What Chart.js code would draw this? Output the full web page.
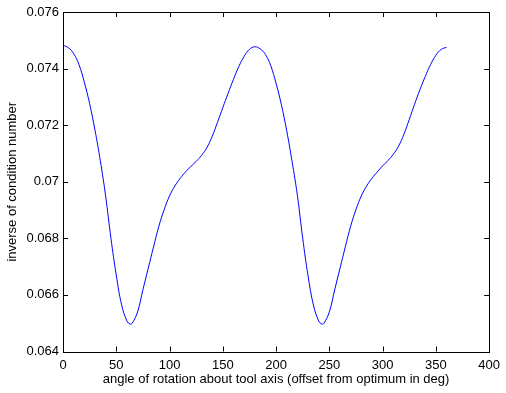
<!DOCTYPE html>
<html>
<head>
<meta charset="utf-8">
<script src="https://cdn.jsdelivr.net/npm/chart.js@4/dist/chart.umd.min.js"></script>
<style>
html,body{margin:0;padding:0;background:#fff;}
#wrap{width:506px;height:393px;position:relative;}
</style>
</head>
<body>
<div id="wrap"><canvas id="c" width="506" height="393"></canvas></div>
<script>
// Angle (deg) and inverse condition number
const angles = [0,5,10,15,20,25,30,35,40,45,50,55,60,63,65,70,75,80,85,90,95,100,105,110,115,120,125,130,135,140,145,150,155,160,165,170,175,180,
  185,190,195,200,205,210,215,220,225,230,235,240,243,245,250,255,260,265,270,275,280,285,290,295,300,305,310,315,320,325,330,335,340,345,350,355,360];
const invCond = [0.07483,0.07474,0.07453,0.07414,0.07352,0.07276,0.07183,0.07075,0.06950,0.06800,0.06670,0.06565,0.06508,0.06497,0.06500,0.06540,0.06618,0.06694,0.06770,0.06843,0.06902,0.06950,0.06985,0.07012,0.07035,0.07054,0.07072,0.07093,0.07120,0.07160,0.07210,0.07262,0.07313,0.07362,0.07407,0.07443,0.07468,0.07477,
  0.07470,0.07450,0.07410,0.07348,0.07272,0.07180,0.07072,0.06952,0.06800,0.06668,0.06565,0.06508,0.06497,0.06500,0.06540,0.06618,0.06694,0.06770,0.06843,0.06902,0.06950,0.06985,0.07012,0.07035,0.07056,0.07075,0.07097,0.07126,0.07168,0.07220,0.07274,0.07325,0.07372,0.07414,0.07447,0.07468,0.07475];
const xTicks = [0,50,100,150,200,250,300,350,400];
const yTicks = [0.064,0.066,0.068,0.07,0.072,0.074,0.076];

const FONT = "'Liberation Sans', Arial, Helvetica, sans-serif";

const innerTicks = {
  id: 'innerTicks',
  afterDraw(chart) {
    const {ctx, chartArea: a, scales} = chart;
    const L = 5;
    ctx.save();
    ctx.strokeStyle = '#000';
    ctx.lineWidth = 1;
    ctx.beginPath();
    scales.x.ticks.forEach((t, i) => {
      const px = Math.round(scales.x.getPixelForTick(i)) + 0.5;
      ctx.moveTo(px, a.bottom); ctx.lineTo(px, a.bottom - L);
      ctx.moveTo(px, a.top); ctx.lineTo(px, a.top + L);
    });
    scales.y.ticks.forEach((t, i) => {
      const py = Math.round(scales.y.getPixelForTick(i)) + 0.5;
      ctx.moveTo(a.left, py); ctx.lineTo(a.left + L, py);
      ctx.moveTo(a.right, py); ctx.lineTo(a.right - L, py);
    });
    ctx.stroke();
    ctx.strokeRect(Math.round(a.left) + 0.5, Math.round(a.top) + 0.5,
      Math.round(a.right - a.left), Math.round(a.bottom - a.top));
    ctx.restore();
  }
};

new Chart(document.getElementById('c'), {
  type: 'line',
  data: {
    datasets: [{
      data: angles.map((a, i) => ({x: a, y: invCond[i]})),
      borderColor: '#0000ff',
      borderWidth: 1,
      pointRadius: 0,
      fill: false,
      tension: 0.4
    }]
  },
  options: {
    responsive: false,
    animation: false,
    layout: {padding: {top: 12, right: 12, left: 0, bottom: 0}},
    plugins: {legend: {display: false}, tooltip: {enabled: false}},
    scales: {
      x: {
        type: 'linear', min: 0, max: 400,
        afterBuildTicks: s => { s.ticks = xTicks.map(v => ({value: v})); },
        afterFit: s => { s.height = 41.5; },
        grid: {display: false, drawTicks: false},
        border: {display: false},
        ticks: {color: '#000', padding: 6, maxRotation: 0, autoSkip: false,
          font: {family: FONT, size: 13}},
        title: {display: true, text: 'angle of rotation about tool axis (offset from optimum in deg)',
          color: '#000', font: {family: FONT, size: 13}, padding: {top: 0, bottom: 6}}
      },
      y: {
        type: 'linear', min: 0.064, max: 0.076,
        afterBuildTicks: s => { s.ticks = yTicks.map(v => ({value: v})); },
        afterFit: s => { s.width = 63; },
        grid: {display: false, drawTicks: false},
        border: {display: false},
        ticks: {color: '#000', padding: 4, autoSkip: false,
          font: {family: FONT, size: 13},
          callback: v => String(parseFloat(Number(v).toFixed(3)))},
        title: {display: true, text: 'inverse of condition number',
          color: '#000', font: {family: FONT, size: 13}, padding: {top: 5, bottom: 0}}
      }
    }
  },
  plugins: [innerTicks]
});
</script>
</body>
</html>
